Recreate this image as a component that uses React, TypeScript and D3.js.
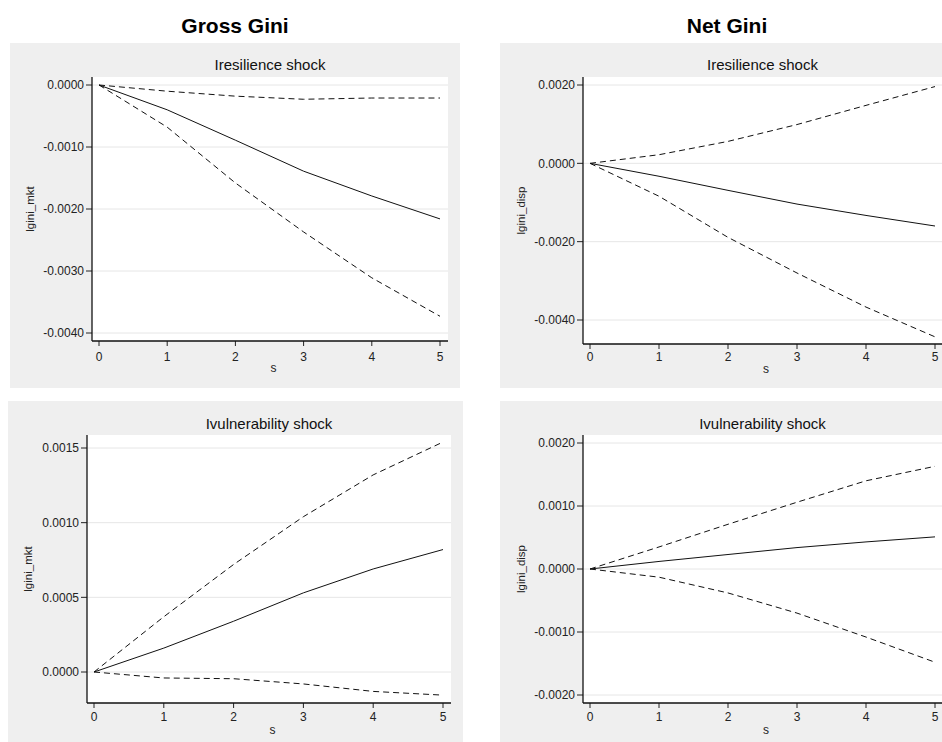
import React from "react";
import * as d3 from "d3";

// ---- data ----
const steps = [0, 1, 2, 3, 4, 5];
const xTicks = [0, 1, 2, 3, 4, 5];

const grossResIrf = [0, -0.0004, -0.00089, -0.00139, -0.00179, -0.00216];
const grossResUpper = [0, -0.0001, -0.00018, -0.00023, -0.00021, -0.00021];
const grossResLower = [0, -0.00068, -0.00158, -0.00237, -0.00311, -0.00373];
const grossResTicks = [0, -0.001, -0.002, -0.003, -0.004];

const netResIrf = [0, -0.00033, -0.00069, -0.00104, -0.00133, -0.0016];
const netResUpper = [0, 0.00022, 0.00056, 0.00099, 0.00148, 0.00196];
const netResLower = [0, -0.00084, -0.00189, -0.0028, -0.00367, -0.00443];
const netResTicks = [0.002, 0, -0.002, -0.004];

const grossVulIrf = [0, 0.00016, 0.00034, 0.00053, 0.00069, 0.00082];
const grossVulUpper = [0, 0.00037, 0.00072, 0.00104, 0.00132, 0.00154];
const grossVulLower = [0, -0.00004, -0.000045, -0.00008, -0.00013, -0.000155];
const grossVulTicks = [0.0015, 0.001, 0.0005, 0];

const netVulIrf = [0, 0.00012, 0.00023, 0.00034, 0.00043, 0.00051];
const netVulUpper = [0, 0.00035, 0.00071, 0.00106, 0.0014, 0.00163];
const netVulLower = [0, -0.00013, -0.00038, -0.0007, -0.00108, -0.00148];
const netVulTicks = [0.002, 0.001, 0, -0.001, -0.002];

const columnTitles = ["Gross Gini", "Net Gini"];
const shockTitles = ["Iresilience shock", "Ivulnerability shock"];
const yLabels = ["lgini_mkt", "lgini_disp"];

// ---- layout (pixels) ----
type Layout = {
  bg: [number, number, number, number];
  plot: [number, number, number, number]; // left, right, top, bottom
  xr: [number, number];
  yr: [number, number]; // pixel of first & last tick
  yLabelX: number;
  titleY: number;
  xLabY: number;
  sY: number;
};

const layouts: Layout[] = [
  { bg: [10, 43, 460, 388], plot: [92, 448, 77, 341], xr: [99, 440], yr: [85, 333], yLabelX: 30, titleY: 70, xLabY: 361, sY: 372 },
  { bg: [500, 43, 950, 388], plot: [583, 942, 77, 344], xr: [590, 935], yr: [85, 320], yLabelX: 521, titleY: 70, xLabY: 361, sY: 373 },
  { bg: [8, 401, 463, 742], plot: [87, 451, 435, 703], xr: [94, 443], yr: [448, 672], yLabelX: 28, titleY: 429, xLabY: 721, sY: 734 },
  { bg: [500, 401, 950, 742], plot: [583, 942, 435, 703], xr: [590, 935], yr: [443, 695], yLabelX: 521, titleY: 429, xLabY: 721, sY: 734 },
];

const panels = [
  { irf: grossResIrf, up: grossResUpper, lo: grossResLower, ticks: grossResTicks, title: shockTitles[0], ylab: yLabels[0] },
  { irf: netResIrf, up: netResUpper, lo: netResLower, ticks: netResTicks, title: shockTitles[0], ylab: yLabels[1] },
  { irf: grossVulIrf, up: grossVulUpper, lo: grossVulLower, ticks: grossVulTicks, title: shockTitles[1], ylab: yLabels[0] },
  { irf: netVulIrf, up: netVulUpper, lo: netVulLower, ticks: netVulTicks, title: shockTitles[1], ylab: yLabels[1] },
];

const FONT = "'Liberation Sans', Arial, Helvetica, sans-serif";
const fmt4 = d3.format(".4f");
const fmt = (v: number) => fmt4(v).replace("\u2212", "-");

function Panel({ p, L }: { p: (typeof panels)[number]; L: Layout }) {
  const [pl, pr, pt, pb] = L.plot;
  const x = d3.scaleLinear().domain([xTicks[0], xTicks[xTicks.length - 1]]).range(L.xr);
  const y = d3.scaleLinear().domain([p.ticks[0], p.ticks[p.ticks.length - 1]]).range(L.yr);
  const line = d3
    .line<number>()
    .x((_, i) => x(steps[i]))
    .y((v) => y(v));
  const yMid = (pt + pb) / 2;
  return (
    <g>
      <rect x={L.bg[0]} y={L.bg[1]} width={L.bg[2] - L.bg[0]} height={L.bg[3] - L.bg[1]} fill="#efefef" />
      <rect x={pl} y={pt} width={pr - pl} height={pb - pt} fill="#ffffff" />
      <text x={(pl + pr) / 2} y={L.titleY} textAnchor="middle" fontSize={15} fontFamily={FONT} fill="#111">
        {p.title}
      </text>
      {p.ticks.map((t) => (
        <g key={t}>
          <line x1={pl} x2={pr} y1={y(t)} y2={y(t)} stroke="#e6e6e6" strokeWidth={1} />
          <line x1={pl - 6} x2={pl} y1={y(t)} y2={y(t)} stroke="#222" strokeWidth={1} />
          <text x={pl - 8} y={y(t)} dy="0.35em" textAnchor="end" fontSize={12} fontFamily={FONT} fill="#222">
            {fmt(t)}
          </text>
        </g>
      ))}
      {xTicks.map((t) => (
        <g key={t}>
          <line x1={x(t)} x2={x(t)} y1={pb} y2={pb + 5} stroke="#222" strokeWidth={1} />
          <text x={x(t)} y={L.xLabY} textAnchor="middle" fontSize={12} fontFamily={FONT} fill="#222">
            {t}
          </text>
        </g>
      ))}
      <line x1={pl} x2={pl} y1={pt} y2={pb} stroke="#111" strokeWidth={1.3} />
      <line x1={pl} x2={pr} y1={pb} y2={pb} stroke="#111" strokeWidth={1.3} />
      <text x={(pl + pr) / 2 + (L.xr[0] - pl) / 2} y={L.sY} textAnchor="middle" fontSize={12} fontFamily={FONT} fill="#222">
        s
      </text>
      <text
        transform={`translate(${L.yLabelX},${yMid}) rotate(-90)`}
        textAnchor="middle"
        dy="0.35em"
        fontSize={11.5}
        fontFamily={FONT}
        fill="#222"
      >
        {p.ylab}
      </text>
      <path d={line(p.up) ?? ""} fill="none" stroke="#111" strokeWidth={1} strokeDasharray="6,4" />
      <path d={line(p.lo) ?? ""} fill="none" stroke="#111" strokeWidth={1} strokeDasharray="6,4" />
      <path d={line(p.irf) ?? ""} fill="none" stroke="#111" strokeWidth={1} />
    </g>
  );
}

export default function App() {
  return (
    <svg
      width={942}
      height={742}
      style={{ position: "absolute", left: 0, top: 0, background: "#ffffff" }}
    >
      <rect x={0} y={0} width={942} height={742} fill="#ffffff" />
      <text x={235} y={33} textAnchor="middle" fontSize={21} fontWeight="bold" fontFamily={FONT} fill="#000">
        {columnTitles[0]}
      </text>
      <text x={727} y={33} textAnchor="middle" fontSize={21} fontWeight="bold" fontFamily={FONT} fill="#000">
        {columnTitles[1]}
      </text>
      <defs>
        <clipPath id="page">
          <rect x={0} y={0} width={942} height={742} />
        </clipPath>
      </defs>
      <g clipPath="url(#page)">
        {panels.map((p, i) => (
          <Panel key={i} p={p} L={layouts[i]} />
        ))}
      </g>
    </svg>
  );
}
